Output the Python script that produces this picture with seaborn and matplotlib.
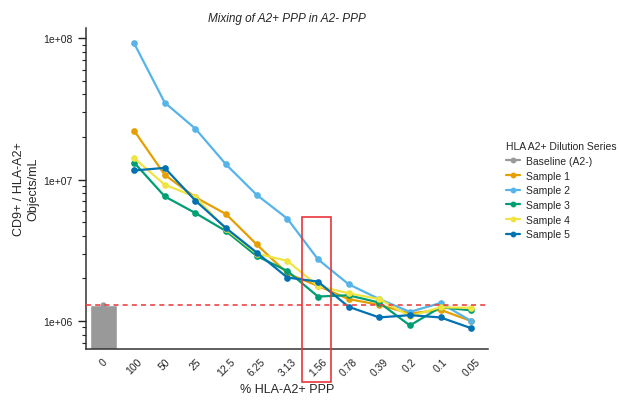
import numpy as np
import pandas as pd
import matplotlib
matplotlib.use("Agg")
import matplotlib.pyplot as plt
import matplotlib.ticker as mticker
from matplotlib.lines import Line2D
from matplotlib.patches import Rectangle
import seaborn as sns

# dilution series (% HLA-A2+ PPP) -- "0" is the A2- baseline
pct_labels = ["0", "100", "50", "25", "12.5", "6.25", "3.13", "1.56",
              "0.78", "0.39", "0.2", "0.1", "0.05"]
dilution_labels = pct_labels[1:]

baseline_value = 1.3e6

sample_1 = [2.22e7, 1.08e7, 7.5e6, 5.7e6, 3.48e6, 2.17e6, 1.77e6, 1.43e6, 1.30e6, 1.13e6, 1.20e6, 1.00e6]
sample_2 = [9.2e7, 3.5e7, 2.29e7, 1.28e7, 7.8e6, 5.3e6, 2.73e6, 1.82e6, 1.43e6, 1.16e6, 1.34e6, 1.00e6]
sample_3 = [1.32e7, 7.6e6, 5.8e6, 4.32e6, 2.88e6, 2.26e6, 1.49e6, 1.52e6, 1.35e6, 0.93e6, 1.25e6, 1.19e6]
sample_4 = [1.42e7, 9.2e6, 7.55e6, 4.45e6, 3.0e6, 2.66e6, 1.77e6, 1.57e6, 1.43e6, 1.08e6, 1.25e6, 1.24e6]
sample_5 = [1.16e7, 1.21e7, 7.1e6, 4.54e6, 3.05e6, 2.03e6, 1.90e6, 1.26e6, 1.06e6, 1.10e6, 1.06e6, 0.89e6]

sample_names = ["Sample 1", "Sample 2", "Sample 3", "Sample 4", "Sample 5"]
sample_values = [sample_1, sample_2, sample_3, sample_4, sample_5]
sample_colors = ["#E69F00", "#56B4E9", "#009E73", "#F0E442", "#0072B2"]
baseline_color = "#999999"

# long-format table for seaborn
rows = []
for name, vals in zip(sample_names, sample_values):
    for lab, v in zip(dilution_labels, vals):
        rows.append({"pct": lab, "value": v, "series": name})
samples_df = pd.DataFrame(rows)
baseline_df = pd.DataFrame({"pct": ["0"], "value": [baseline_value]})

sns.set_style("ticks")
plt.rcParams["font.family"] = ["Liberation Sans", "DejaVu Sans"]

fig = plt.figure(figsize=(6.19, 4.02), dpi=100)
ax = fig.add_axes([86 / 619, 1 - 350 / 402, 402 / 619, 321 / 402])
ax.set_yscale("log")

# baseline bar + point
sns.barplot(data=baseline_df, x="pct", y="value", order=pct_labels,
            color=baseline_color, width=0.88, errorbar=None, ax=ax)
sns.pointplot(data=baseline_df, x="pct", y="value", order=pct_labels,
              color=baseline_color, errorbar=None, markersize=2.5, ax=ax)

# dilution series lines
sns.pointplot(data=samples_df, x="pct", y="value", hue="series", order=pct_labels,
              hue_order=sample_names, palette=sample_colors, errorbar=None,
              markers="o", linestyles="-", markersize=3.6, linewidth=1.6,
              legend=False, ax=ax)

# baseline reference line
ax.axhline(baseline_value, color="#EE4444", lw=1.2, ls=(0, (3, 2.5)), zorder=5)

ax.set_xlim(-0.57, 12.55)
ax.set_ylim(6.34e5, 1.18e8)

# highlight box around 1.56 %
box = Rectangle((6.48, 3.7e5), 0.96, 5.4e6 - 3.7e5, fill=False,
                edgecolor="#E8363A", lw=1.2, clip_on=False, zorder=6)
ax.add_patch(box)

ax.yaxis.set_major_locator(mticker.LogLocator(base=10))
ax.yaxis.set_minor_locator(mticker.LogLocator(base=10, subs=np.arange(2, 10)))
ax.yaxis.set_major_formatter(mticker.FuncFormatter(
    lambda v, p: "1e+%02d" % int(round(np.log10(v)))))
ax.yaxis.set_minor_formatter(mticker.NullFormatter())
ax.tick_params(axis="y", which="major", length=6, width=1, labelsize=7.5, colors="#222222")
ax.tick_params(axis="y", which="minor", length=3, width=0.8, colors="#222222")
ax.tick_params(axis="x", length=0, labelsize=7.5, pad=5, colors="#222222")
plt.setp(ax.get_xticklabels(), rotation=45, ha="center")

for s in ["top", "right"]:
    ax.spines[s].set_visible(False)
for s in ["left", "bottom"]:
    ax.spines[s].set_color("#333333")
    ax.spines[s].set_linewidth(1.1)

ax.set_title("Mixing of A2+ PPP in A2- PPP", fontsize=8.5, style="italic", pad=5)
ax.set_xlabel("% HLA-A2+ PPP", fontsize=9, labelpad=4)
ax.set_ylabel("CD9+ / HLA-A2+\nObjects/mL", fontsize=9, labelpad=3)

handles = [Line2D([], [], color=baseline_color, marker="o", markersize=3.2, lw=1.6)]
for c in sample_colors:
    handles.append(Line2D([], [], color=c, marker="o", markersize=3.2, lw=1.6))
fig.legend(handles, ["Baseline (A2-)"] + sample_names,
           title="HLA A2+ Dilution Series", loc="upper left",
           bbox_to_anchor=(497 / 619, 1 - 133 / 402), frameon=False,
           fontsize=7.5, title_fontsize=7.5, handlelength=1.3,
           handletextpad=0.6, labelspacing=0.45, alignment="left")

fig.savefig("out.png", dpi=100)
